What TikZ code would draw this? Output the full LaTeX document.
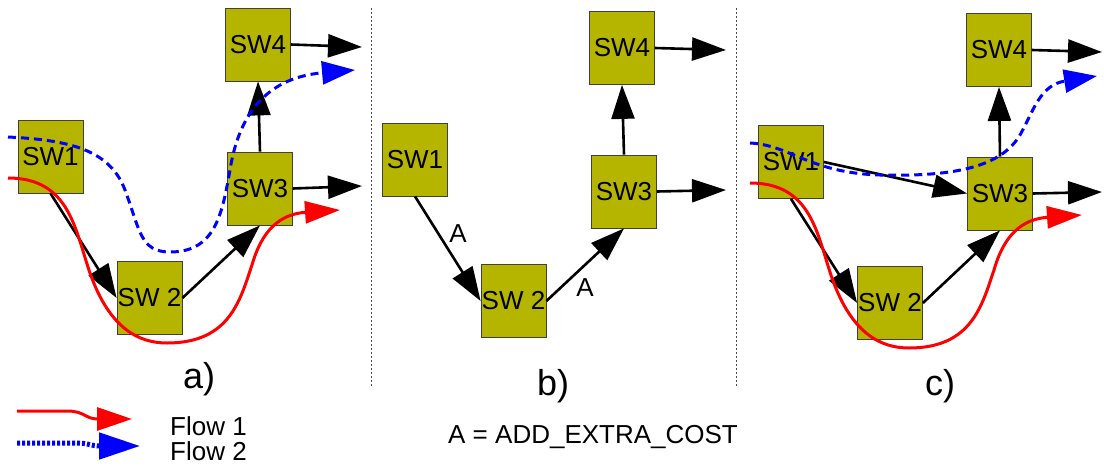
\documentclass[tikz,border=0pt]{standalone}
\usepackage{fontspec}
\setmainfont{Liberation Sans}
\usetikzlibrary{arrows.meta}
\definecolor{swfill}{RGB}{181,181,0}
\begin{document}
\begin{tikzpicture}[x=1pt,y=-1pt,
  sw/.style={draw=black!75, line width=0.8pt, fill=swfill, minimum width=65pt, minimum height=73pt, inner sep=0pt, font=\fontsize{26}{30}\selectfont},
  link/.style={line width=2.6pt, -{Triangle[length=34pt,width=23pt]}},
  flowone/.style={red, line width=3pt, -{Triangle[length=35pt,width=22pt]}},
  flowtwo/.style={blue, line width=3pt, dash pattern=on 8pt off 5pt, -{Triangle[length=33pt,width=23pt]}},
  divider/.style={black!70, line width=0.8pt, dash pattern=on 2pt off 2pt},
  lab/.style={font=\fontsize{26}{30}\selectfont, inner sep=0pt},
  paneltag/.style={font=\fontsize{36}{40}\selectfont, inner sep=0pt, anchor=base west}]
\useasboundingbox (0,0) rectangle (1104,466);

% dividers
\draw[divider] (371,8) -- (371,386);
\draw[divider] (736,8) -- (736,387);

% ---------- panel a ----------
\node[sw] (a1) at (50.5,156.5) {SW1};
\node[sw] (a2) at (149.5,298) {SW 2};
\node[sw] (a3) at (260,188.5) {SW3};
\node[sw] (a4) at (258,44.5) {SW4};
\coordinate (a3o) at (362,186);
\coordinate (a4o) at (362,47);
\draw[link] (a1.south) -- (a2.west);
\draw[link] (a2.east) -- (a3.south);
\draw[link] (a3.north) -- (a4.south);
\draw[link] (a3.east) -- (a3o);
\draw[link] (a4.east) -- (a4o);
\draw[flowone] (8,178) .. controls (70,178) and (75,230) .. (90,273)
  .. controls (110,330) and (140,343) .. (167,343)
  .. controls (230,343) and (240,300) .. (252,265)
  .. controls (262,230) and (280,214) .. (340,210);
\draw[flowtwo] (8,137) .. controls (70,140) and (110,150) .. (125,190)
  .. controls (140,230) and (140,252) .. (170,252)
  .. controls (215,252) and (222,215) .. (230,170)
  .. controls (238,120) and (262,78) .. (355,70);
\node[paneltag] (la) at (183,388) {a)};

% ---------- panel b ----------
\node[sw] (b1) at (415,159.5) {SW1};
\node[sw] (b2) at (513.5,301) {SW 2};
\node[sw] (b3) at (624,191.5) {SW3};
\node[sw] (b4) at (622,48) {SW4};
\coordinate (b3o) at (726,190);
\coordinate (b4o) at (726,50);
\draw[link] (b1.south) -- (b2.west);
\draw[link] (b2.east) -- (b3.south);
\draw[link] (b3.north) -- (b4.south);
\draw[link] (b3.east) -- (b3o);
\draw[link] (b4.east) -- (b4o);
\node[lab] (ab1) at (458,234) {A};
\node[lab] (ab2) at (585,288) {A};
\node[paneltag] (lb) at (537,395) {b)};

% ---------- panel c ----------
\node[sw] (c1) at (791,162) {SW1};
\node[sw] (c2) at (890,303) {SW 2};
\node[sw] (c3) at (1000,193.5) {SW3};
\node[sw] (c4) at (999,50) {SW4};
\coordinate (c3o) at (1102,192);
\coordinate (c4o) at (1102,52);
\draw[link] (c1.south) -- (c2.west);
\draw[link] (c1.east) -- (c3.west);
\draw[link] (c2.east) -- (c3.south);
\draw[link] (c3.north) -- (c4.south);
\draw[link] (c3.east) -- (c3o);
\draw[link] (c4.east) -- (c4o);
\begin{scope}[shift={(742,5)}]
\draw[flowone] (8,178) .. controls (70,178) and (75,230) .. (90,273)
  .. controls (110,330) and (140,343) .. (167,343)
  .. controls (230,343) and (240,300) .. (252,265)
  .. controls (262,230) and (280,214) .. (340,210);
\end{scope}
\draw[flowtwo] (750,143) .. controls (790,145) and (810,173) .. (880,175)
  .. controls (960,177) and (1002,165) .. (1020,135)
  .. controls (1034,110) and (1040,85) .. (1097,76);
\node[paneltag] (lc) at (925,395) {c)};

% ---------- legend ----------
\draw[red, line width=3pt, -{Triangle[length=35pt,width=23pt]}] (17,411) -- (67,411) .. controls (85,411) and (85,419) .. (132,419);
\draw[blue, line width=5pt, dash pattern=on 3pt off 2pt, -{Triangle[length=41pt,width=26pt]}] (17,443) -- (75,443) .. controls (90,443) and (90,446) .. (140,446);
\node[lab, anchor=base west] (f1) at (170,435) {Flow 1};
\node[lab, anchor=base west] (f2) at (170,460) {Flow 2};
\node[lab, anchor=base west] (key) at (448,443) {A = ADD\_EXTRA\_COST};
\end{tikzpicture}
\end{document}
